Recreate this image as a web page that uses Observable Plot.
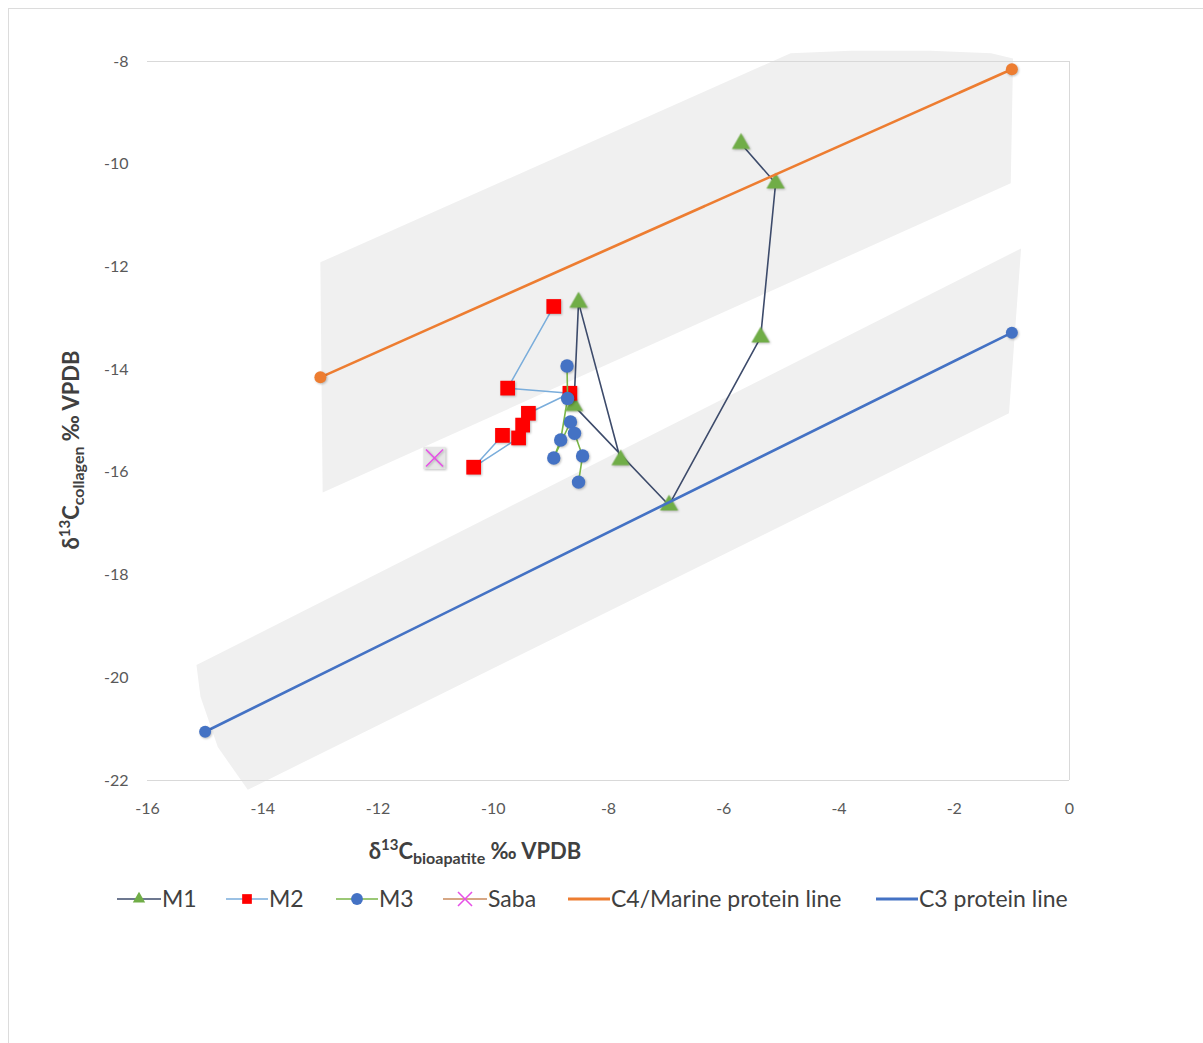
<!DOCTYPE html>
<html>
<head>
<meta charset="utf-8">
<script src="https://cdn.jsdelivr.net/npm/d3@7"></script>
<script src="https://cdn.jsdelivr.net/npm/@observablehq/plot@0.6"></script>
<style>
  html, body { margin: 0; padding: 0; background: #fff; }
  body { width: 1203px; height: 1043px; position: relative; overflow: hidden; font-family: Lato, "Liberation Sans", sans-serif; }
  #frame { position: absolute; left: 8px; top: 8px; width: 1200px; height: 1040px; border: 1px solid #dcdcdc; box-sizing: border-box; }
  #chart { position: absolute; left: 0; top: 0; }
  #legend { position: absolute; left: 0; top: 880px; }
  #chart svg g[aria-label="dot"] { filter: drop-shadow(1px 1.5px 1px rgba(0,0,0,0.25)); }
</style>
</head>
<body>
<div id="frame"></div>
<div id="chart"></div>
<div id="legend"></div>
<script>
// ---------- data ----------
const xTicks = [-16, -14, -12, -10, -8, -6, -4, -2, 0];
const yTicks = [-8, -10, -12, -14, -16, -18, -20, -22];

const m1X = [-5.7, -5.1, -5.36, -6.95, -8.6, -8.52, -7.79];
const m1Y = [-9.6, -10.37, -13.37, -16.64, -14.7, -12.69, -15.76];

const m2X = [-8.95, -9.75, -8.67, -9.39, -9.49, -9.56, -10.34, -9.84];
const m2Y = [-12.77, -14.36, -14.46, -14.85, -15.08, -15.33, -15.9, -15.28];

const m3X = [-8.72, -8.71, -8.83, -8.95, -8.66, -8.59, -8.45, -8.52];
const m3Y = [-13.93, -14.56, -15.37, -15.72, -15.02, -15.24, -15.68, -16.19];

const sabaX = [-11.02];
const sabaY = [-15.72];

const c4X = [-13, -1];
const c4Y = [-14.15, -8.15];

const c3X = [-15, -1];
const c3Y = [-21.05, -13.28];

// shaded ranges around the two protein lines (outline points)
const upperBandX = [-13.0, -4.84, -3.8, -2.41, -1.36, -0.98, -1.02, -12.96];
const upperBandY = [-11.91, -7.84, -7.79, -7.79, -7.84, -7.94, -10.37, -16.39];

const lowerBandX = [-15.15, -0.84, -1.05, -14.26, -14.78, -15.08];
const lowerBandY = [-19.75, -11.64, -14.85, -22.18, -21.35, -20.37];

// ---------- build rows ----------
const rows = (xs, ys) => xs.map((x, i) => ({x, y: ys[i]}));
const m1 = rows(m1X, m1Y), m2 = rows(m2X, m2Y), m3 = rows(m3X, m3Y);
const saba = rows(sabaX, sabaY), c4 = rows(c4X, c4Y), c3 = rows(c3X, c3Y);
const upperBand = rows(upperBandX, upperBandY), lowerBand = rows(lowerBandX, lowerBandY);

const COL = {
  m1Line: "#3d4b6b", tri: "#70ad47",
  m2Line: "#7aaddb", sq: "#ff0000",
  m3Line: "#7ab648", circ: "#4472c4",
  sabaLine: "#c98a5c", saba: "#e64fe6",
  c4: "#ed7d31", c3: "#4472c4",
  band: "#f0f0f0", frame: "#d9d9d9"
};
const FONT = "Lato, 'Liberation Sans', sans-serif";

const plot = Plot.plot({
  width: 1203,
  height: 880,
  marginLeft: 147,
  marginRight: 134,
  marginTop: 61,
  marginBottom: 100,
  x: {domain: [-16, 0]},
  y: {domain: [-22, -8]},
  style: {fontFamily: FONT, fontSize: "16px", background: "transparent", overflow: "visible"},
  marks: [
    Plot.line(upperBand, {x: "x", y: "y", fill: COL.band, stroke: "none", curve: "linear"}),
    Plot.line(lowerBand, {x: "x", y: "y", fill: COL.band, stroke: "none", curve: "linear"}),
    Plot.ruleY([-8, -22], {stroke: COL.frame, strokeWidth: 1}),
    Plot.ruleX([0], {stroke: COL.frame, strokeWidth: 1}),
    Plot.axisX({ticks: xTicks, tickFormat: d => String(d), tickSize: 0, tickPadding: 22, label: null, color: "#595959", fontSize: 16}),
    Plot.axisY({ticks: yTicks, tickFormat: d => String(d), tickSize: 0, tickPadding: 19, label: null, color: "#595959", fontSize: 16}),
    // M1
    Plot.line(m1, {x: "x", y: "y", stroke: COL.m1Line, strokeWidth: 1.6}),
    Plot.dot(m1, {x: "x", y: "y", symbol: "triangle", r: 6.8, fill: COL.tri, stroke: "none"}),
    // M2
    Plot.line(m2, {x: "x", y: "y", stroke: COL.m2Line, strokeWidth: 1.5}),
    Plot.dot(m2, {x: "x", y: "y", symbol: "square", r: 8.3, fill: COL.sq, stroke: "none"}),
    // M3
    Plot.line(m3, {x: "x", y: "y", stroke: COL.m3Line, strokeWidth: 1.6}),
    Plot.dot(m3, {x: "x", y: "y", symbol: "circle", r: 6.7, fill: COL.circ, stroke: "none"}),
    // Saba
    Plot.dot(saba, {x: "x", y: "y", symbol: "square", r: 12.5, fill: "#e6e6e6", stroke: "none"}),
    Plot.dot(saba, {x: "x", y: "y", symbol: "times", r: 7.8, stroke: COL.saba, strokeWidth: 1.5, fill: "none"}),
    // C4 / marine protein line
    Plot.line(c4, {x: "x", y: "y", stroke: COL.c4, strokeWidth: 2.6}),
    Plot.dot(c4, {x: "x", y: "y", r: 6, fill: COL.c4, stroke: "none"}),
    // C3 protein line
    Plot.line(c3, {x: "x", y: "y", stroke: COL.c3, strokeWidth: 2.6}),
    Plot.dot(c3, {x: "x", y: "y", r: 6, fill: COL.c3, stroke: "none"})
  ]
});
document.getElementById("chart").appendChild(plot);

// ---------- axis titles with super/subscripts ----------
const svg = d3.select(plot);
function title(sel, sub) {
  sel.attr("text-anchor", "middle").attr("font-family", FONT)
    .attr("font-weight", "bold").attr("font-size", 22).attr("fill", "#404040");
  sel.append("tspan").text("δ");
  sel.append("tspan").attr("dy", -9).attr("font-size", 15).text("13");
  sel.append("tspan").attr("dy", 9).text("C");
  sel.append("tspan").attr("dy", 5).attr("font-size", 16).text(sub);
  sel.append("tspan").attr("dy", -5).text(" ‰ VPDB");
}
title(svg.append("text").attr("x", 475).attr("y", 859), "bioapatite");
title(svg.append("text").attr("transform", "translate(79,450) rotate(-90)"), "collagen");

// ---------- legend ----------
const legendItems = [
  {label: "M1", line: COL.m1Line, x0: 117, x1: 161, sym: "triangle", symFill: COL.tri, tx: 162},
  {label: "M2", line: COL.m2Line, x0: 226, x1: 268, sym: "square", symFill: COL.sq, tx: 269},
  {label: "M3", line: COL.m3Line, x0: 336, x1: 378, sym: "circle", symFill: COL.circ, tx: 379},
  {label: "Saba", line: COL.sabaLine, x0: 443, x1: 487, sym: "times", symFill: COL.saba, tx: 488},
  {label: "C4/Marine protein line", line: COL.c4, x0: 568, x1: 610, sym: null, tx: 611, w: 3},
  {label: "C3 protein line", line: COL.c3, x0: 876, x1: 918, sym: null, tx: 919, w: 3}
];
const lg = d3.select("#legend").append("svg").attr("width", 1203).attr("height", 40);
const cy = 19;
const symMap = {triangle: d3.symbolTriangle2, square: d3.symbolSquare2, circle: d3.symbolCircle, times: d3.symbolTimes};
for (const it of legendItems) {
  lg.append("line").attr("x1", it.x0).attr("x2", it.x1).attr("y1", cy).attr("y2", cy)
    .attr("stroke", it.line).attr("stroke-width", it.w || 1.6);
  if (it.sym) {
    const size = it.sym === "square" ? 120 : it.sym === "times" ? 130 : 110;
    const p = lg.append("path").attr("d", d3.symbol(symMap[it.sym], size)())
      .attr("transform", `translate(${(it.x0 + it.x1) / 2},${cy})`);
    if (it.sym === "times") p.attr("fill", "none").attr("stroke", it.symFill).attr("stroke-width", 1.5);
    else p.attr("fill", it.symFill);
  }
  lg.append("text").attr("x", it.tx).attr("y", cy).attr("dy", "0.36em")
    .attr("font-family", FONT)
    .attr("font-size", 23).attr("fill", "#404040").text(it.label);
}
</script>
</body>
</html>
